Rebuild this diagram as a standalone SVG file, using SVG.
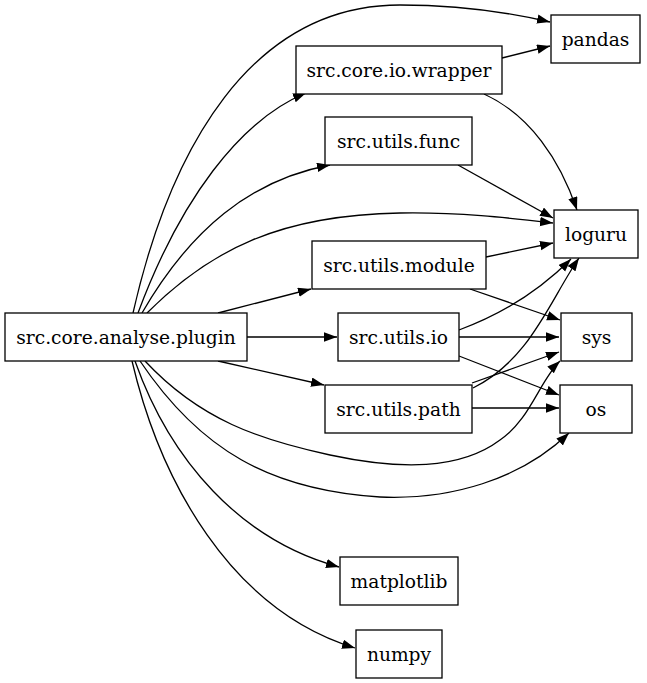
<svg xmlns="http://www.w3.org/2000/svg" width="647" height="683" viewBox="0 0 647 683">
<style>
rect{fill:#fff;stroke:#000;stroke-width:1.3}
text{font-family:"DejaVu Serif",serif;font-size:18.67px;text-anchor:middle;dominant-baseline:central}
#edges path{fill:none;stroke:#000;stroke-width:1.3;marker-end:url(#a)}
</style>
<defs><marker id="a" markerUnits="userSpaceOnUse" markerWidth="14" markerHeight="10" refX="13" refY="4.7" orient="auto"><path d="M0,0 L13,4.7 L0,9.4 z" fill="#000"/></marker></defs>
<rect width="647" height="683" style="stroke:none"/>
<g id="edges">
<path d="M133,313 C170,150 250,5 400,5 C470,5 520,15 550,22"/>
<path d="M138,313 C180,200 240,120 306,93"/>
<path d="M142,313 C190,230 250,180 330,165"/>
<path d="M147,313 C210,250 280,215 400,213 C460,212 510,218 553,223"/>
<path d="M218,313 L311,289"/>
<path d="M247,337 L337,337"/>
<path d="M218,361 L324,385"/>
<path d="M145,361 C200,420 260,440 330,455 C400,470 460,470 500,440 C530,420 540,380 560,361"/>
<path d="M140,361 C200,450 270,490 380,497 C450,500 520,480 569,433"/>
<path d="M135,361 C170,460 240,540 339,567"/>
<path d="M132,361 C160,480 230,610 355,648"/>
<path d="M502,58 L550,46"/>
<path d="M484,94 C530,115 560,160 577,210"/>
<path d="M458,165 L553,218"/>
<path d="M486,257 L553,243"/>
<path d="M470,289 L560,320"/>
<path d="M459,330 C500,315 540,290 571,259"/>
<path d="M459,337 L559,337"/>
<path d="M459,356 L559,395"/>
<path d="M473,388 C530,360 550,300 579,258"/>
<path d="M472,383 L559,352"/>
<path d="M472,408 L559,408"/>
</g>
<g id="plugin"><rect x="5" y="313" width="242" height="48"/><text x="126" y="337">src.core.analyse.plugin</text></g>
<g id="pandas"><rect x="551" y="15" width="89" height="48"/><text x="595.5" y="39">pandas</text></g>
<g id="wrapper"><rect x="296" y="46" width="206" height="48"/><text x="399" y="70">src.core.io.wrapper</text></g>
<g id="func"><rect x="325" y="117" width="147" height="48"/><text x="398.5" y="141">src.utils.func</text></g>
<g id="loguru"><rect x="554" y="210" width="84" height="48"/><text x="596" y="234">loguru</text></g>
<g id="module"><rect x="312" y="241" width="174" height="48"/><text x="399" y="265">src.utils.module</text></g>
<g id="sys"><rect x="561" y="313" width="71" height="48"/><text x="596.5" y="337">sys</text></g>
<g id="io"><rect x="338" y="313" width="121" height="48"/><text x="398.5" y="337">src.utils.io</text></g>
<g id="path"><rect x="325" y="385" width="147" height="48"/><text x="398.5" y="409">src.utils.path</text></g>
<g id="os"><rect x="560" y="385" width="72" height="48"/><text x="596" y="409">os</text></g>
<g id="matplotlib"><rect x="340" y="557" width="118" height="48"/><text x="399" y="581">matplotlib</text></g>
<g id="numpy"><rect x="356" y="630" width="86" height="48"/><text x="399" y="654">numpy</text></g>
</svg>
